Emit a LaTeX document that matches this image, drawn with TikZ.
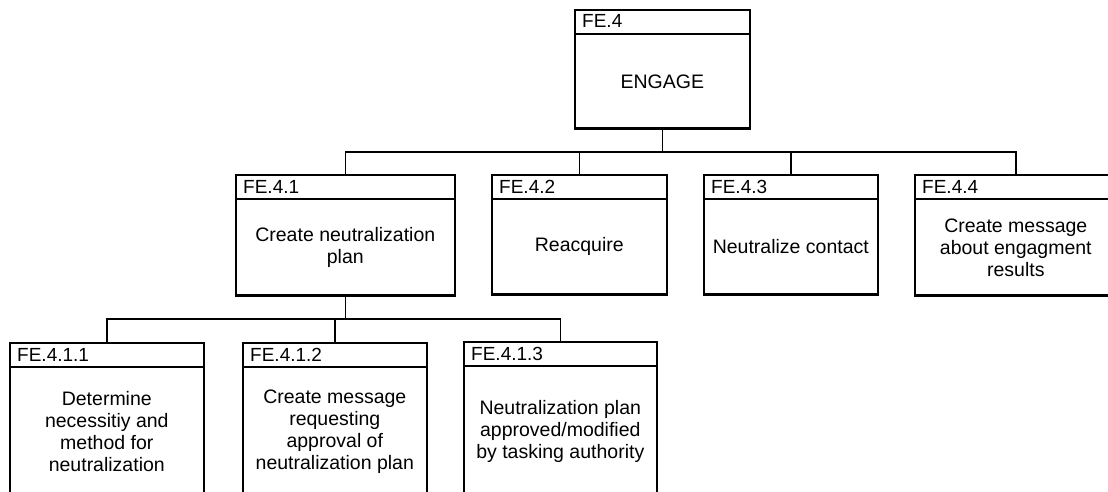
\documentclass[tikz,border=0pt]{standalone}
\usepackage{fontspec}
\setmainfont{Liberation Sans}
\usetikzlibrary{calc}

% One function box: name, left, top, right, bottom, identifier, description
\newcommand\fnbox[7]{%
  \node[fnframe, minimum width={(#4-#2)*1pt}, minimum height={(#5-#3)*1pt},
        anchor=north west] (#1) at (#2,#3) {};
  \draw[frameline] ($(#1.north west)+(0,25)$) -- ($(#1.north east)+(0,25)$);
  \draw[baseline] (#1.south west) -- (#1.south east);
  \node[idtext] (#1-id) at ($(#1.north west)+(8,19)$) {#6};
  \node[bodytext] (#1-text) at ($(#1.south)!0.5!(#1.north)+(0,12.5)$) {#7};
}

\begin{document}
\begin{tikzpicture}[x=1pt, y=-1pt,
  fnframe/.style={draw=black, line width=1.6pt, fill=white, rectangle, inner sep=0pt},
  frameline/.style={draw=black, line width=1.6pt},
  baseline/.style={draw=black, line width=3pt},
  idtext/.style={font=\fontsize{19}{22}\selectfont, anchor=base west, inner sep=0pt},
  bodytext/.style={font=\fontsize{19.5}{22}\selectfont, align=center, inner sep=0pt},
  link/.style={draw=black, line width=1.5pt},
]
\useasboundingbox (0,0) rectangle (1108,492);
\fill[white] (0,0) rectangle (1108,492);
\clip (0,0) rectangle (1108,492);

% heights of the two horizontal bus lines
\coordinate (bus1) at (0,152);
\coordinate (bus2) at (0,319);

% function boxes
\fnbox{fe4}{574}{9}{749}{127}{FE.4}{ENGAGE}
\fnbox{fe41}{235}{174}{454}{294}{FE.4.1}{Create neutralization\\plan}
\fnbox{fe42}{491}{174}{666}{293}{FE.4.2}{Reacquire}
\fnbox{fe43}{703}{174}{877}{293}{FE.4.3}{Neutralize contact}
\fnbox{fe44}{914}{174}{1116}{294}{FE.4.4}{Create message\\about engagment\\results}
\fnbox{fe411}{9}{342}{203}{495}{FE.4.1.1}{Determine\\necessitiy and\\method for\\neutralization}
\fnbox{fe412}{242}{342}{426}{495}{FE.4.1.2}{Create message\\requesting\\approval of\\neutralization plan}
\fnbox{fe413}{463}{341}{656}{495}{FE.4.1.3}{Neutralization plan\\approved/modified\\by tasking authority}

% tree connectors
\foreach \c in {fe41,fe42,fe43,fe44}
  \draw[link] (fe4.south) -- (fe4.south |- bus1) -| (\c.north);
\foreach \c in {fe411,fe412,fe413}
  \draw[link] (fe41.south) -- (fe41.south |- bus2) -| (\c.north);
\end{tikzpicture}
\end{document}
